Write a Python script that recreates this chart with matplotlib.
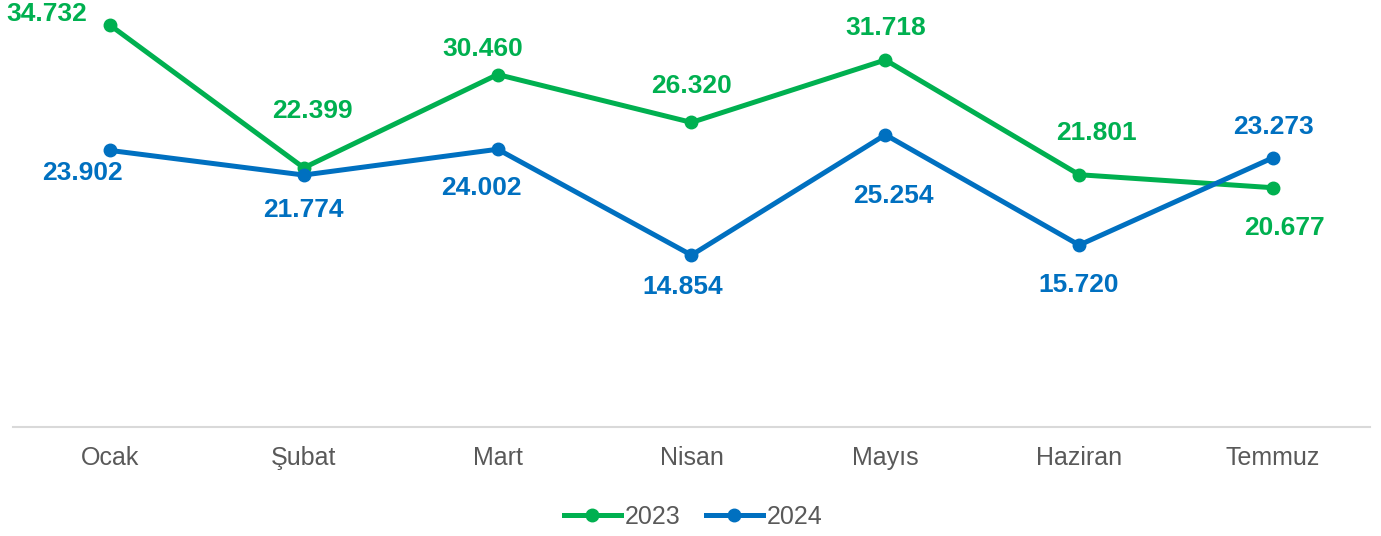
import matplotlib.pyplot as plt

plt.rcParams['font.family'] = ['Liberation Sans', 'DejaVu Sans']

months = ['Ocak', 'Şubat', 'Mart', 'Nisan', 'Mayıs', 'Haziran', 'Temmuz']
y2023 = [34732, 22399, 30460, 26320, 31718, 21801, 20677]
y2024 = [23902, 21774, 24002, 14854, 25254, 15720, 23273]
lab2023 = ['34.732', '22.399', '30.460', '26.320', '31.718', '21.801', '20.677']
lab2024 = ['23.902', '21.774', '24.002', '14.854', '25.254', '15.720', '23.273']

# label offsets in pixels (dx, dy), tuned by eye
off2023 = [(-63, 11), (9, 57), (-15, 26), (0, 36), (0, 32), (17, 42), (11, -40)]
off2024 = [(-27, -23), (0, -35), (-16, -39), (-9, -32), (8, -61), (-1, -40), (0, 31)]

green = '#00B050'
blue = '#0070C0'
grey = '#595959'

fig = plt.figure(figsize=(13.81, 5.36), dpi=100)
ax = fig.add_axes([13 / 1381, 109 / 536, 1357 / 1381, 427 / 536])

x = range(len(months))
ax.plot(x, y2023, color=green, lw=3.6, marker='o', ms=9, label='2023', zorder=3)
ax.plot(x, y2024, color=blue, lw=3.6, marker='o', ms=9, label='2024', zorder=3)

for i in x:
    ax.annotate(lab2023[i], (i, y2023[i]), xytext=off2023[i], textcoords='offset pixels',
                ha='center', va='center', color=green, fontsize=19, fontweight='bold')
    ax.annotate(lab2024[i], (i, y2024[i]), xytext=off2024[i], textcoords='offset pixels',
                ha='center', va='center', color=blue, fontsize=19, fontweight='bold')

ax.set_xlim(-0.5, 6.5)
ax.set_ylim(0, 36900)
ax.set_xticks(list(x))
ax.set_xticklabels(months, fontsize=18, color=grey)
ax.tick_params(axis='x', length=0, pad=14)
ax.set_yticks([])
for s in ['top', 'right', 'left']:
    ax.spines[s].set_visible(False)
ax.spines['bottom'].set_color('#D9D9D9')
ax.spines['bottom'].set_linewidth(1.5)

leg = fig.legend(loc='center', bbox_to_anchor=(693 / 1381, 1 - 517 / 536), ncol=2,
                 frameon=False, fontsize=18, handlelength=2.3, handletextpad=0.15,
                 columnspacing=1.0)
for t in leg.get_texts():
    t.set_color(grey)

fig.savefig('out.png', dpi=100)
